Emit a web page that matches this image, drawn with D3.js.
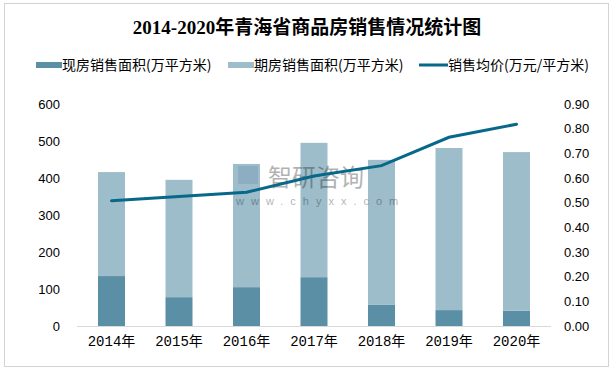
<!DOCTYPE html>
<html>
<head>
<meta charset="utf-8">
<script src="https://cdn.jsdelivr.net/npm/d3@7"></script>
<style>
  body { margin: 0; background: #fff; }
  text { font-family: "Liberation Sans", Arial, "Noto Sans CJK SC", sans-serif; fill: #000; }
  .title { font-family: "Liberation Serif", "Times New Roman", "Noto Sans CJK SC", serif; font-weight: bold; font-size: 19px; }
</style>
</head>
<body>
<div id="chart"></div>
<script>
var years = ['2014年', '2015年', '2016年', '2017年', '2018年', '2019年', '2020年'];
var current = [135, 78, 105, 132, 57, 43, 41];      // 现房销售面积
var future = [281, 317, 333, 363, 392, 438, 429];   // 期房销售面积
var price = [0.508, 0.525, 0.542, 0.608, 0.650, 0.765, 0.818];
var leftTicks = [0, 100, 200, 300, 400, 500, 600];
var rightTicks = [0, 0.1, 0.2, 0.3, 0.4, 0.5, 0.6, 0.7, 0.8, 0.9];

var width = 612, height = 370;
var svg = d3.select('#chart').append('svg')
    .attr('width', width)
    .attr('height', height);

svg.append('rect')
    .attr('x', 4.5).attr('y', 3.5)
    .attr('width', 604).attr('height', 363)
    .attr('fill', '#fff')
    .attr('stroke', '#a6a6a6')
    .attr('stroke-dasharray', '1,1');

svg.append('text')
    .attr('class', 'title')
    .attr('x', 307).attr('y', 34)
    .attr('text-anchor', 'middle')
    .text('2014-2020年青海省商品房销售情况统计图');

var x = d3.scaleBand().domain(years).range([77.75, 550.25]).paddingInner(0.6).paddingOuter(0.3);
var y = d3.scaleLinear().domain([0, 600]).range([326, 104]);
var y2 = d3.scaleLinear().domain([0, 0.9]).range([326, 104]);

var cColor = '#5b8fa6', fColor = '#9dbdcb', lColor = '#07688a';

var g = svg.append('g');
g.selectAll('.cur').data(years).enter().append('rect')
    .attr('x', function (d) { return x(d); })
    .attr('width', x.bandwidth())
    .attr('y', function (d, i) { return y(current[i]); })
    .attr('height', function (d, i) { return y(0) - y(current[i]); })
    .attr('fill', cColor);

g.selectAll('.fut').data(years).enter().append('rect')
    .attr('x', function (d) { return x(d); })
    .attr('width', x.bandwidth())
    .attr('y', function (d, i) { return y(current[i] + future[i]); })
    .attr('height', function (d, i) { return y(current[i]) - y(current[i] + future[i]); })
    .attr('fill', fColor);

// watermark
var wm = svg.append('g').attr('opacity', 0.3);
wm.append('rect').attr('x', 238).attr('y', 166).attr('width', 20).attr('height', 18).attr('fill', '#6a8fb0');
wm.append('text').attr('x', 268).attr('y', 186).attr('font-size', 24).attr('fill', '#666').text('智研咨询');
wm.append('text').attr('x', 236).attr('y', 205).attr('font-size', 11).attr('fill', '#666')
    .attr('letter-spacing', '7px').text('www.chyxx.com');

svg.append('line')
    .attr('x1', 77).attr('x2', 551)
    .attr('y1', y(0) + 0.5).attr('y2', y(0) + 0.5)
    .attr('stroke', '#d9d9d9');

var line = d3.line()
    .x(function (d, i) { return x(years[i]) + x.bandwidth() / 2; })
    .y(function (d) { return y2(d); });

svg.append('path')
    .datum(price)
    .attr('d', line)
    .attr('fill', 'none')
    .attr('stroke', lColor)
    .attr('stroke-width', 3)
    .attr('stroke-linecap', 'round');

// axes
var left = svg.append('g')
    .attr('transform', 'translate(60,0)')
    .call(d3.axisLeft(y).tickValues(leftTicks).tickSize(0).tickPadding(0));
left.select('.domain').remove();
left.selectAll('text').attr('font-size', 13).attr('fill', '#000')
    .style('font-family', '"Liberation Sans", Arial, sans-serif');

var right = svg.append('g')
    .attr('transform', 'translate(564,0)')
    .call(d3.axisRight(y2).tickValues(rightTicks).tickFormat(d3.format('.2f')).tickSize(0).tickPadding(0));
right.select('.domain').remove();
right.selectAll('text').attr('font-size', 13).attr('fill', '#000')
    .style('font-family', '"Liberation Sans", Arial, sans-serif');

var bottom = svg.append('g')
    .attr('transform', 'translate(0,' + 336 + ')')
    .call(d3.axisBottom(x).tickSize(0).tickPadding(0));
bottom.select('.domain').remove();
bottom.selectAll('text').attr('font-size', 14).attr('fill', '#000')
    .attr('dy', '0.71em')
    .style('font-family', '"Liberation Mono", "Noto Sans CJK SC", sans-serif');

// legend
var legend = [
    {name: '现房销售面积(万平方米)', type: 'rect', color: cColor, x: 36},
    {name: '期房销售面积(万平方米)', type: 'rect', color: fColor, x: 228},
    {name: '销售均价(万元/平方米)', type: 'line', color: lColor, x: 419}
];
var lg = svg.selectAll('.lg').data(legend).enter().append('g')
    .attr('transform', function (d) { return 'translate(' + d.x + ',65)'; });
lg.each(function (d) {
    var s = d3.select(this);
    if (d.type === 'rect') {
        s.append('rect').attr('x', 0).attr('y', -3).attr('width', 26).attr('height', 6).attr('fill', d.color);
    } else {
        s.append('line').attr('x1', 0).attr('x2', 29).attr('y1', 0).attr('y2', 0)
            .attr('stroke', d.color).attr('stroke-width', 3);
    }
    s.append('text')
        .attr('x', d.type === 'rect' ? 26 : 29)
        .attr('dy', '0.35em')
        .attr('font-size', 14)
        .style('font-family', '"Noto Sans CJK SC", sans-serif')
        .text(d.name);
});
</script>
</body>
</html>
